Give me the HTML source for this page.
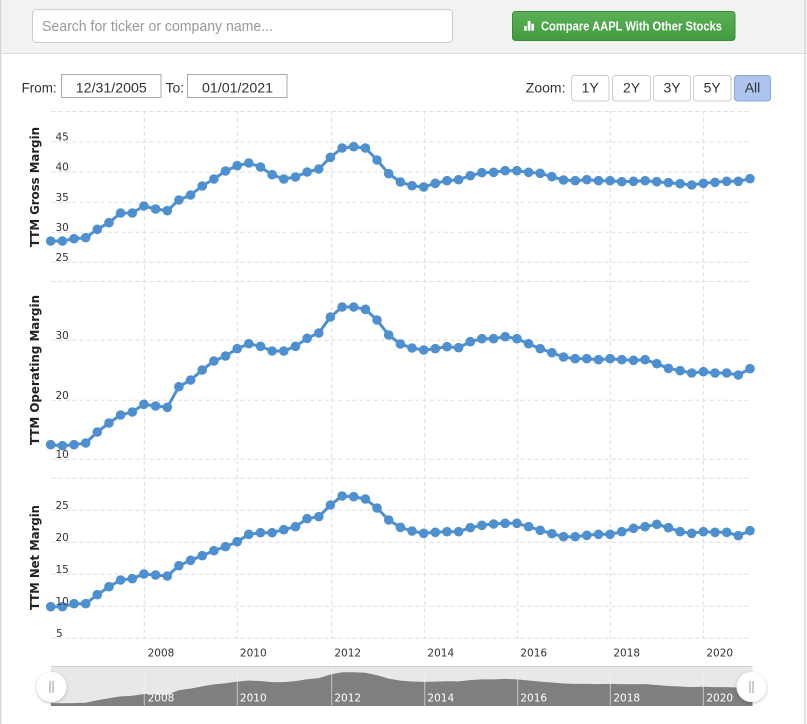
<!DOCTYPE html>
<html>
<head>
<meta charset="utf-8">
<style>
  html,body{margin:0;padding:0;background:#fff;}
  svg{display:block;}
  .yl{font-family:"DejaVu Sans","Liberation Sans",sans-serif;font-size:10.5px;fill:#333;}
  .xl{font-family:"DejaVu Sans","Liberation Sans",sans-serif;font-size:10.5px;fill:#333;text-anchor:middle;}
  .nl{font-family:"DejaVu Sans","Liberation Sans",sans-serif;font-size:10.5px;fill:#ffffff;text-anchor:middle;}
  .tt{font-family:"DejaVu Sans","Liberation Sans",sans-serif;font-size:12px;font-weight:bold;fill:#222;text-anchor:middle;}
  .ui{font-family:"Liberation Sans",Arial,sans-serif;font-size:14px;fill:#333;}
  .grid{stroke:#dddddd;stroke-width:1;stroke-dasharray:4,3;fill:none;}
  .ser{fill:none;stroke:#4e8fcf;stroke-width:3;stroke-linejoin:round;}
</style>
</head>
<body>
<svg width="807" height="724" viewBox="0 0 807 724" xmlns="http://www.w3.org/2000/svg">
  <defs>
    <marker id="dot" viewBox="0 0 10 10" refX="5" refY="5" markerWidth="10" markerHeight="10" markerUnits="userSpaceOnUse">
      <circle cx="5" cy="5" r="4.8" fill="#4e8fcf"/>
    </marker>
    <linearGradient id="gbtn" x1="0" y1="0" x2="0" y2="1">
      <stop offset="0" stop-color="#5bb156"/>
      <stop offset="1" stop-color="#429a3f"/>
    </linearGradient>
    <filter id="sh" x="-50%" y="-50%" width="200%" height="200%">
      <feDropShadow dx="0" dy="1" stdDeviation="1.5" flood-color="#000" flood-opacity="0.25"/>
    </filter>
  </defs>

  <!-- header -->
  <rect x="0" y="0" width="807" height="53" fill="#f2f2f2"/>
  <line x1="0" y1="53.5" x2="807" y2="53.5" stroke="#dcdcdc" stroke-width="1"/>
  <!-- outer borders -->
  <line x1="0.75" y1="0" x2="0.75" y2="724" stroke="#d8d8d8" stroke-width="1.5"/>
  <line x1="805" y1="0" x2="805" y2="724" stroke="#d8d8d8" stroke-width="1.5"/>

  <!-- search box -->
  <rect x="32.5" y="9.5" width="420" height="33" rx="4" fill="#fff" stroke="#cccccc"/>
  <text x="42" y="31" font-family="Liberation Sans, Arial, sans-serif" font-size="15" fill="#999" textLength="231" lengthAdjust="spacingAndGlyphs">Search for ticker or company name...</text>

  <!-- compare button -->
  <rect x="512.5" y="11.5" width="222.5" height="29" rx="3" fill="url(#gbtn)" stroke="#3d8b3a"/>
  <rect x="524" y="26" width="2.7" height="4.7" fill="#fff"/>
  <rect x="527.7" y="21" width="2.7" height="9.7" fill="#fff"/>
  <rect x="531.3" y="23.7" width="2.7" height="7" fill="#fff"/>
  <text x="541" y="30.5" font-family="Liberation Sans, Arial, sans-serif" font-size="12.5" font-weight="bold" fill="#fff" textLength="181" lengthAdjust="spacingAndGlyphs">Compare AAPL With Other Stocks</text>

  <!-- from / to -->
  <text class="ui" x="21.6" y="92.7" textLength="35" lengthAdjust="spacingAndGlyphs">From:</text>
  <rect x="61.5" y="74.5" width="99.5" height="23" fill="#fff" stroke="#aaaaaa"/>
  <text class="ui" x="75.8" y="92.7" textLength="71" lengthAdjust="spacingAndGlyphs">12/31/2005</text>
  <text class="ui" x="165.5" y="92.7">To:</text>
  <rect x="187.5" y="74.5" width="99.5" height="23" fill="#fff" stroke="#aaaaaa"/>
  <text class="ui" x="202" y="92.7" textLength="71" lengthAdjust="spacingAndGlyphs">01/01/2021</text>

  <!-- zoom buttons -->
  <text class="ui" x="525.8" y="92.7" textLength="39.7" lengthAdjust="spacingAndGlyphs">Zoom:</text>
  <rect x="571.5" y="75.5" width="37.5" height="25.5" rx="3" fill="#fff" stroke="#cccccc"/>
  <text class="ui" x="590.2" y="92.7" text-anchor="middle">1Y</text>
  <rect x="612.5" y="75.5" width="38" height="25.5" rx="3" fill="#fff" stroke="#cccccc"/>
  <text class="ui" x="631.5" y="92.7" text-anchor="middle">2Y</text>
  <rect x="653.5" y="75.5" width="37" height="25.5" rx="3" fill="#fff" stroke="#cccccc"/>
  <text class="ui" x="672" y="92.7" text-anchor="middle">3Y</text>
  <rect x="693.5" y="75.5" width="37.5" height="25.5" rx="3" fill="#fff" stroke="#cccccc"/>
  <text class="ui" x="712.2" y="92.7" text-anchor="middle">5Y</text>
  <rect x="734.5" y="75.5" width="36" height="25.5" rx="3" fill="#adc5ee" stroke="#8ea9d8"/>
  <text class="ui" x="752.5" y="92.7" text-anchor="middle" fill="#222">All</text>

  <!-- horizontal gridlines -->
  <g class="grid">
    <line x1="51.5" y1="111.5" x2="750" y2="111.5"/>
    <line x1="51.5" y1="142" x2="750" y2="142"/>
    <line x1="51.5" y1="172" x2="750" y2="172"/>
    <line x1="51.5" y1="202.3" x2="750" y2="202.3"/>
    <line x1="51.5" y1="232.3" x2="750" y2="232.3"/>
    <line x1="51.5" y1="262.3" x2="750" y2="262.3"/>
    <line x1="51.5" y1="281.5" x2="750" y2="281.5"/>
    <line x1="51.5" y1="340.3" x2="750" y2="340.3"/>
    <line x1="51.5" y1="400.3" x2="750" y2="400.3"/>
    <line x1="51.5" y1="459.3" x2="750" y2="459.3"/>
    <line x1="51.5" y1="478.3" x2="750" y2="478.3"/>
    <line x1="51.5" y1="510.3" x2="750" y2="510.3"/>
    <line x1="51.5" y1="542.3" x2="750" y2="542.3"/>
    <line x1="51.5" y1="574.3" x2="750" y2="574.3"/>
    <line x1="51.5" y1="606.3" x2="750" y2="606.3"/>
    <line x1="51.5" y1="638.3" x2="750" y2="638.3"/>
    <line x1="144.3" y1="111" x2="144.3" y2="638.5"/>
    <line x1="237.3" y1="111" x2="237.3" y2="638.5"/>
    <line x1="331.7" y1="111" x2="331.7" y2="638.5"/>
    <line x1="424.7" y1="111" x2="424.7" y2="638.5"/>
    <line x1="517.7" y1="111" x2="517.7" y2="638.5"/>
    <line x1="610.3" y1="111" x2="610.3" y2="638.5"/>
    <line x1="703.3" y1="111" x2="703.3" y2="638.5"/>
  </g>

  <!-- series -->
  <polyline class="ser" marker-start="url(#dot)" marker-mid="url(#dot)" marker-end="url(#dot)"
    points="50.7,241 62.4,241 74,238.7 85.7,237.7 97.3,229.3 109,222.7 120.6,213 132.3,213 143.9,206 155.6,209 167.3,210.7 178.9,200 190.6,195 202.2,186 213.9,179 225.5,171 237.2,165.7 248.8,163 260.5,167 272.1,174.7 283.8,179 295.5,177 307.1,172 318.8,169 330.4,157.3 342.1,148 353.7,146.7 365.4,148 377,160 388.7,173.7 400.4,182 412,185.7 423.7,187 435.3,183.3 447,180.7 458.6,179.7 470.3,175.7 481.9,172.7 493.6,172.3 505.2,170.7 516.9,170.7 528.6,172.3 540.2,173.3 551.9,176.7 563.5,180 575.2,180.7 586.8,179.7 598.5,180.7 610.1,180.7 621.8,181.7 633.5,181.3 645.1,180.7 656.8,181.7 668.4,182.7 680.1,183.7 691.7,185 703.4,183.3 715,182.3 726.7,181.3 738.3,181.3 750,178.7"/>
  <polyline class="ser" marker-start="url(#dot)" marker-mid="url(#dot)" marker-end="url(#dot)"
    points="50.7,444.7 62.4,445.7 74,444.7 85.7,443 97.3,432 109,423 120.6,415 132.3,412 143.9,404.3 155.6,406 167.3,407.3 178.9,386.7 190.6,380 202.2,370 213.9,361 225.5,356 237.2,348.7 248.8,343.7 260.5,346.3 272.1,351 283.8,351 295.5,346.3 307.1,338.3 318.8,333 330.4,317 342.1,307 353.7,307 365.4,309.3 377,320 388.7,335 400.4,344 412,348 423.7,350 435.3,348.7 447,346.7 458.6,347.7 470.3,341.7 481.9,338.7 493.6,338.7 505.2,336.7 516.9,338.7 528.6,343.7 540.2,348.7 551.9,352.7 563.5,357 575.2,358.7 586.8,358.7 598.5,359.7 610.1,358.7 621.8,359.7 633.5,360.3 645.1,359.7 656.8,363.7 668.4,368.3 680.1,370.7 691.7,373 703.4,371.7 715,373 726.7,373 738.3,375 750,368.7"/>
  <polyline class="ser" marker-start="url(#dot)" marker-mid="url(#dot)" marker-end="url(#dot)"
    points="50.7,606.7 62.4,606.7 74,603.7 85.7,603.7 97.3,594.7 109,586.7 120.6,580 132.3,578.7 143.9,574 155.6,575 167.3,576 178.9,565.7 190.6,560.3 202.2,555.7 213.9,550.7 225.5,546.7 237.2,541.7 248.8,534.3 260.5,532.7 272.1,532.7 283.8,529.7 295.5,526.7 307.1,518.7 318.8,516.7 330.4,505 342.1,496 353.7,496.7 365.4,499 377,508 388.7,520 400.4,527.3 412,531 423.7,533.3 435.3,532.3 447,531.7 458.6,531.7 470.3,527.7 481.9,525.3 493.6,524 505.2,523.3 516.9,523.3 528.6,526.7 540.2,530.3 551.9,533.7 563.5,536.7 575.2,536.7 586.8,535.3 598.5,534.3 610.1,534.3 621.8,531.7 633.5,528.3 645.1,526.7 656.8,524.3 668.4,527.7 680.1,531.7 691.7,533.3 703.4,531.7 715,532.3 726.7,532.3 738.3,535.7 750,530.7"/>

  <!-- y axis labels -->
  <text class="yl" x="55.5" y="140.5">45</text>
  <text class="yl" x="55.5" y="170.5">40</text>
  <text class="yl" x="55.5" y="200.8">35</text>
  <text class="yl" x="55.5" y="230.8">30</text>
  <text class="yl" x="55.5" y="260.8">25</text>

  <text class="yl" x="55.5" y="338.8">30</text>
  <text class="yl" x="55.5" y="398.8">20</text>
  <text class="yl" x="55.5" y="457.8">10</text>

  <text class="yl" x="55.5" y="508.8">25</text>
  <text class="yl" x="55.5" y="540.8">20</text>
  <text class="yl" x="55.5" y="572.8">15</text>
  <text class="yl" x="55.5" y="604.8">10</text>
  <text class="yl" x="56" y="636.8">5</text>

  <!-- axis titles -->
  <text class="tt" transform="translate(39,187) rotate(-90)" textLength="120" lengthAdjust="spacingAndGlyphs">TTM Gross Margin</text>
  <text class="tt" transform="translate(39,370) rotate(-90)" textLength="150" lengthAdjust="spacingAndGlyphs">TTM Operating Margin</text>
  <text class="tt" transform="translate(39,557.5) rotate(-90)" textLength="105" lengthAdjust="spacingAndGlyphs">TTM Net Margin</text>

  <!-- x axis labels -->
  <text class="xl" x="161" y="656.7">2008</text>
  <text class="xl" x="253.3" y="656.7">2010</text>
  <text class="xl" x="347.7" y="656.7">2012</text>
  <text class="xl" x="440.8" y="656.7">2014</text>
  <text class="xl" x="533.7" y="656.7">2016</text>
  <text class="xl" x="626.7" y="656.7">2018</text>
  <text class="xl" x="719.7" y="656.7">2020</text>

  <!-- navigator -->
  <rect x="51" y="666" width="701.5" height="40" fill="#e8e8e8"/>
  <path d="M51,706 L50.7,703.1 62.4,703.3 74,703.1 85.7,702.7 97.3,700.2 109,698.2 120.6,696.4 132.3,695.8 143.9,694 155.6,694.4 167.3,694.7 178.9,690.1 190.6,688.6 202.2,686.4 213.9,684.4 225.5,683.2 237.2,681.6 248.8,680.5 260.5,681.1 272.1,682.1 283.8,682.1 295.5,681.1 307.1,679.3 318.8,678.1 330.4,674.5 342.1,672.3 353.7,672.3 365.4,672.8 377,675.2 388.7,678.6 400.4,680.6 412,681.5 423.7,681.9 435.3,681.6 447,681.2 458.6,681.4 470.3,680.1 481.9,679.4 493.6,679.4 505.2,678.9 516.9,679.4 528.6,680.5 540.2,681.6 551.9,682.5 563.5,683.5 575.2,683.9 586.8,683.9 598.5,684.1 610.1,683.9 621.8,684.1 633.5,684.2 645.1,684.1 656.8,685 668.4,686 680.1,686.5 691.7,687.1 703.4,686.8 715,687.1 726.7,687.1 738.3,687.5 750,686.1 752.5,686.1 L752.5,706 Z" fill="#7f7f7f"/>
  <g stroke="#f3f3f3" stroke-width="1" opacity="0.6">
    <line x1="144.3" y1="666" x2="144.3" y2="706"/>
    <line x1="237.3" y1="666" x2="237.3" y2="706"/>
    <line x1="331.7" y1="666" x2="331.7" y2="706"/>
    <line x1="424.7" y1="666" x2="424.7" y2="706"/>
    <line x1="517.7" y1="666" x2="517.7" y2="706"/>
    <line x1="610.3" y1="666" x2="610.3" y2="706"/>
    <line x1="703.3" y1="666" x2="703.3" y2="706"/>
  </g>
  <line x1="51" y1="666.5" x2="752.5" y2="666.5" stroke="#cfcfcf" stroke-width="1"/>
  <text class="nl" x="161" y="701.3">2008</text>
  <text class="nl" x="253.3" y="701.3">2010</text>
  <text class="nl" x="347.7" y="701.3">2012</text>
  <text class="nl" x="440.8" y="701.3">2014</text>
  <text class="nl" x="533.7" y="701.3">2016</text>
  <text class="nl" x="626.7" y="701.3">2018</text>
  <text class="nl" x="719.7" y="701.3">2020</text>

  <!-- handles -->
  <circle cx="51.5" cy="687" r="15" fill="#fff" filter="url(#sh)"/>
  <line x1="50" y1="681" x2="50" y2="693" stroke="#999" stroke-width="1"/>
  <line x1="53" y1="681" x2="53" y2="693" stroke="#999" stroke-width="1"/>
  <circle cx="751.5" cy="687" r="15" fill="#fff" filter="url(#sh)"/>
  <line x1="750" y1="681" x2="750" y2="693" stroke="#999" stroke-width="1"/>
  <line x1="753" y1="681" x2="753" y2="693" stroke="#999" stroke-width="1"/>
</svg>
</body>
</html>
